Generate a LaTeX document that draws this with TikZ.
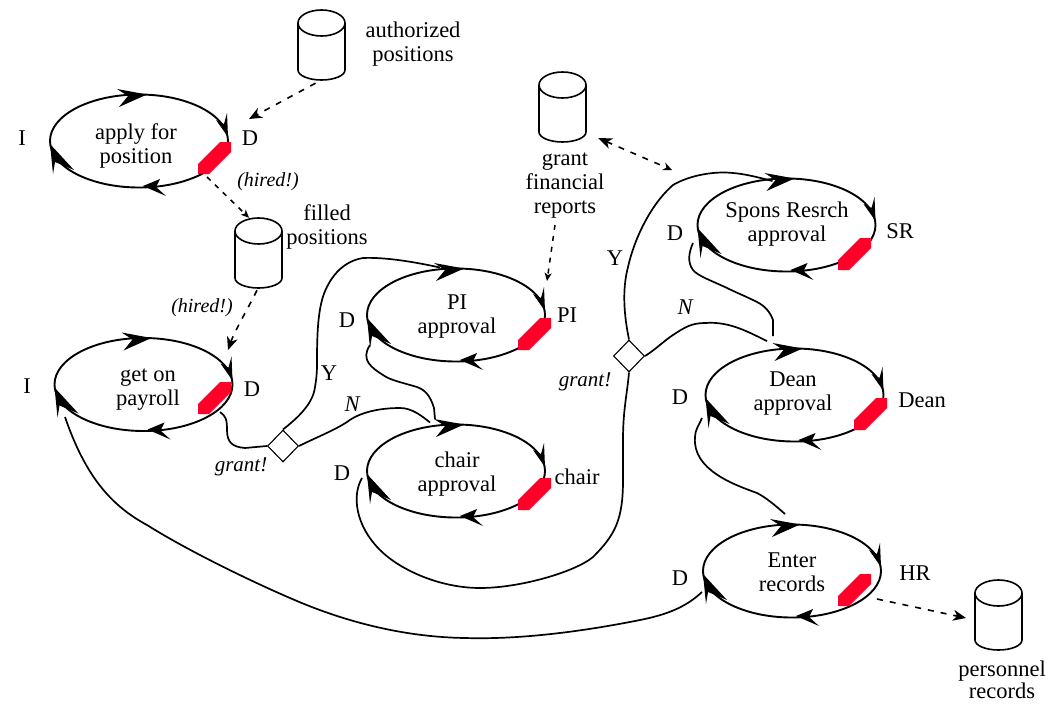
\documentclass[tikz,border=0pt]{standalone}
\usepackage{fontspec}
\setmainfont{Liberation Serif}
\usetikzlibrary{shapes.geometric,arrows.meta}
\definecolor{hotred}{RGB}{255,0,40}
\newcommand{\lbltext}{\fontsize{22.5}{24}\selectfont}
\tikzset{
  statebox/.style={draw=black,line width=1.9pt,ellipse,minimum width=178pt,minimum height=93pt,inner sep=0pt},
  lbl/.style={font=\lbltext,align=center,inner sep=0pt},
  ilbl/.style={font=\lbltext\itshape,align=center,inner sep=0pt},
  hiredlbl/.style={font=\fontsize{20}{22}\selectfont\itshape,inner sep=0pt},
  grantlbl/.style={font=\fontsize{21}{22}\selectfont\itshape,inner sep=0pt},
  storebox/.style={draw=none,minimum width=47pt,minimum height=70pt,inner sep=0pt},
  storeline/.style={draw=black,line width=1.6pt},
  decision/.style={draw=black,line width=1.1pt,fill=white,diamond,minimum width=31pt,minimum height=32pt,inner sep=0pt},
  flow/.style={line width=1.7pt},
  dataflow/.style={line width=1.6pt,dash pattern=on 6pt off 7pt,-{Stealth[length=13pt,width=11pt,inset=4pt]}},
  smallflow/.style={line width=1.5pt,dash pattern=on 5pt off 6pt,-{Stealth[length=8pt,width=7pt,inset=2pt]}},
  databoth/.style={line width=1.6pt,dash pattern=on 6pt off 7pt,{Stealth[length=14pt,width=11pt,inset=4pt]}-{Stealth[length=9pt,width=8pt,inset=3pt]}},
  tiphead/.style={fill=black,draw=none},
  redmark/.style={fill=hotred,draw=none}
}
% name, cx, cy, text, text x, text y, mark x, mark y
\newcommand{\stateloop}[8]{%
  \node[statebox] (#1) at (#2,#3) {};
  \node[lbl,yshift=-2.5pt] (#1-text) at (#5,#6) {#4};
  \begin{scope}[shift={(#1.center)}]
    \fill[tiphead] (8,-46.5) -- (-22,-52) -- (-11,-45) -- (-20,-34) -- cycle;
    \fill[tiphead] (89,-4) -- (88,-28) -- (85,-17) -- (77,-21) -- cycle;
    \fill[tiphead] (-89,3) -- (-86,33) -- (-84,21) -- (-65,29) -- cycle;
    \fill[tiphead] (4,45) -- (21,38) -- (17,46) -- (27,55) -- cycle;
  \end{scope}
  \begin{scope}[shift={(#7,#8)}]
    \fill[redmark] (22,0) -- (33,0) -- (33,10) -- (11,32) -- (0,32) -- (0,22) -- cycle;
  \end{scope}}
\newcommand{\storenode}[3]{%
  \node[storebox] (#1) at (#2,#3) {};
  \begin{scope}[shift={(#1.center)}]
    \draw[storeline] (0,-22) ellipse (23.5 and 13);
    \draw[storeline] (-23.5,-22) -- (-23.5,25) arc (180:0:23.5 and 10) -- (23.5,-22);
  \end{scope}}
\begin{document}
\begin{tikzpicture}[x=1pt,y=-1pt]
\useasboundingbox (0,0) rectangle (1052,704);
\fill[white] (0,0) rectangle (1052,704);
% states
\stateloop{apply}{139}{141}{apply for\\position}{136}{143}{198}{142}
\stateloop{payroll}{143.5}{384.5}{get on\\payroll}{148}{387}{198}{382}
\stateloop{pi}{456}{315}{PI\\approval}{457}{314}{518}{318}
\stateloop{chair}{456}{471}{chair\\approval}{457}{471.5}{518}{478}
\stateloop{spons}{786.5}{225}{Spons Resrch\\approval}{787}{222}{838}{238}
\stateloop{dean}{794.5}{395}{Dean\\approval}{793}{391}{854}{398}
\stateloop{enter}{792}{571}{Enter\\records}{792}{570}{838}{574}
% stores
\storenode{auth}{321.5}{45}
\storenode{filled}{258.5}{253}
\storenode{grant}{562.5}{107}
\storenode{pers}{998.5}{615}
\node[lbl] (authl) at (413,44) {authorized\\positions};
\node[lbl] (filledl) at (327,227) {filled\\positions};
\node[lbl] (grantl) at (565,186) {grant\\financial\\reports};
\node[lbl,font=\fontsize{22.5}{22.5}\selectfont] (persl) at (1002,680) {personnel\\records};
% decisions
\node[decision] (d1) at (283,446) {};
\node[decision] (d2) at (629,356) {};
% data flows
\draw[dataflow] ([shift={(-6,3)}]auth.south) -- ([shift={(110,-22)}]apply.center);
\draw[smallflow] ([shift={(68,36)}]apply.center) -- (filled.105);
\draw[dataflow] ([shift={(-1.5,2)}]filled.south) .. controls (250,305) and (235,330) .. ([shift={(84.5,-34.5)}]payroll.center);
\draw[smallflow] ([shift={(-10,39)}]grantl.center) -- ([shift={(91,-34)}]pi.center);
\draw[databoth] ([shift={(35.5,31)}]grant.center) -- ([shift={(-114.5,-55)}]spons.center);
\draw[dataflow] ([shift={(85,28)}]enter.center) -- ([shift={(-32.5,3)}]pers.center);
% control flows
\draw[flow] ([shift={(76.5,27.5)}]payroll.center) .. controls (226,416) and (227,420) .. (227,430)
  .. controls (227,442) and (232,447) .. (245,448) -- (d1.west);
\draw[flow] (d1.north) .. controls (295,420) and (313,405) .. (315,387)
  .. controls (317,375) and (317,370) .. (317,360) .. controls (317,335) and (318,315) .. (322,300)
  .. controls (326,285) and (338,262) .. (363,258) .. controls (385,257) and (415,262) .. ([shift={(-16,0)}]pi.north);
\draw[flow] (d1.east) .. controls (315,438) and (335,430) .. (347,422)
  .. controls (360,412) and (380,408) .. (400,408) .. controls (412,408) and (422,416) .. ([shift={(-26,-1)}]chair.north);
\draw[flow] ([shift={(-21,-4.5)}]chair.north) -- (434,408) .. controls (430,395) and (425,390) .. (417,387)
  .. controls (400,382) and (390,380) .. (383,375) .. controls (372,368) and (360,360) .. ([shift={(-86,30)}]pi.center);
\draw[flow] ([shift={(-94,7)}]chair.center) .. controls (352,495) and (355,525) .. (380,550)
  .. controls (400,570) and (440,588) .. (480,588) .. controls (520,588) and (575,572) .. (593,557)
  .. controls (615,535) and (623,520) .. (623,480) -- (623,440) .. controls (623,410) and (627,395) .. (d2.south);
\draw[flow] (d2.north) .. controls (624,315) and (622,290) .. (628,267)
  .. controls (634,240) and (650,205) .. (673,185) .. controls (690,175) and (715,171) .. (733,173)
  .. controls (745,174) and (757,177) .. ([shift={(-14,3.5)}]spons.north);
\draw[flow] (d2.east) .. controls (655,350) and (665,340) .. (673,335) .. controls (685,327) and (692,323) .. (705,323)
  .. controls (730,321) and (750,333) .. ([shift={(-27.5,-6.5)}]dean.north);
\draw[flow] ([shift={(-21.5,-11.5)}]dean.north) -- (773,320) .. controls (770,312) and (765,306) .. (757,302)
  .. controls (745,296) and (735,292) .. (727,288) .. controls (710,280) and (698,276) .. (693,270)
  .. controls (687,262) and (689,252) .. ([shift={(-93.5,18)}]spons.center);
\draw[flow] ([shift={(-7,-9.5)}]enter.north) .. controls (775,505) and (765,497) .. (757,493)
  .. controls (735,485) and (692,470) .. (695,437) .. controls (695,430) and (699,425) .. ([shift={(-92.5,23)}]dean.center);
\draw[flow] ([shift={(-90,21)}]enter.center) .. controls (685,608) and (665,615) .. (640,620)
  .. controls (600,628) and (530,640) .. (465,638) .. controls (400,637) and (340,620) .. (290,598)
  .. controls (255,583) and (190,552) .. (147,525) .. controls (110,505) and (85,475) .. ([shift={(-78.5,32.5)}]payroll.center);
% labels
\node[lbl] (l1) at (22,138) {I};
\node[lbl] (l2) at (250,138) {D};
\node[lbl] (l3) at (27,386) {I};
\node[lbl] (l4) at (252,389) {D};
\node[lbl] (l5) at (347,320) {D};
\node[lbl] (l6) at (567,315) {PI};
\node[lbl] (l7) at (342,473) {D};
\node[lbl] (l8) at (577,477) {chair};
\node[lbl] (l9) at (675,233) {D};
\node[lbl] (l10) at (900,231) {SR};
\node[lbl] (l11) at (680,397) {D};
\node[lbl] (l12) at (922,400) {Dean};
\node[lbl] (l13) at (680,578) {D};
\node[lbl] (l14) at (915,573) {HR};
\node[lbl] (y1) at (329,373) {Y};
\node[ilbl] (n1) at (352,404) {N};
\node[lbl] (y2) at (615,258) {Y};
\node[ilbl] (n2) at (685,307) {N};
\node[hiredlbl] (h1) at (268,182) {(hired!)};
\node[hiredlbl] (h2) at (202,308) {(hired!)};
\node[grantlbl] (g1) at (241,467) {grant!};
\node[grantlbl] (g2) at (585,382) {grant!};
\end{tikzpicture}
\end{document}
